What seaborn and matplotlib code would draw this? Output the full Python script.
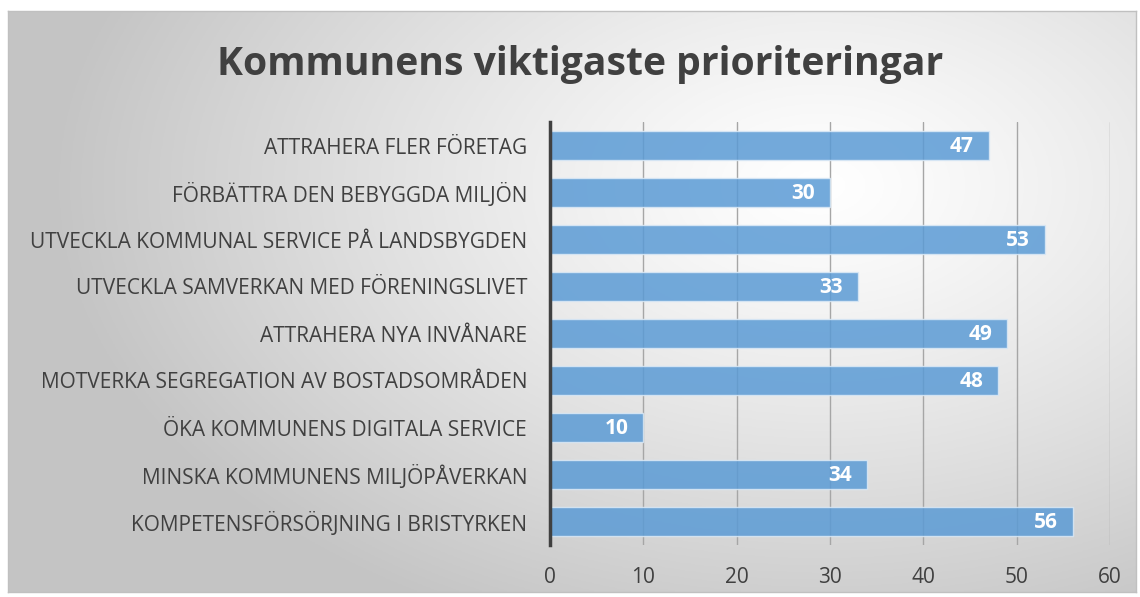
import numpy as np
import matplotlib
matplotlib.use("Agg")
import matplotlib.pyplot as plt
import seaborn as sns
import pandas as pd

categories = [
    "ATTRAHERA FLER FÖRETAG",
    "FÖRBÄTTRA DEN BEBYGGDA MILJÖN",
    "UTVECKLA KOMMUNAL SERVICE PÅ LANDSBYGDEN",
    "UTVECKLA SAMVERKAN MED FÖRENINGSLIVET",
    "ATTRAHERA NYA INVÅNARE",
    "MOTVERKA SEGREGATION AV BOSTADSOMRÅDEN",
    "ÖKA KOMMUNENS DIGITALA SERVICE",
    "MINSKA KOMMUNENS MILJÖPÅVERKAN",
    "KOMPETENSFÖRSÖRJNING I BRISTYRKEN",
]
values = [47, 30, 53, 33, 49, 48, 10, 34, 56]
xticks = [0, 10, 20, 30, 40, 50, 60]
title = "Kommunens viktigaste prioriteringar"

sns.set_theme(style="white")
plt.rcParams['font.family'] = ['Open Sans', 'DejaVu Sans']

W, H = 1140, 597
fig = plt.figure(figsize=(W / 100, H / 100), dpi=100)
fig.patch.set_facecolor("white")

# background panel with radial gradient
bx0, by0, bx1, by1 = 8, 11, 1136, 592
bg = fig.add_axes([bx0 / W, 1 - by1 / H, (bx1 - bx0) / W, (by1 - by0) / H])
bg.set_zorder(-10)
nx, ny = 400, 220
xs = np.linspace(0, 1, nx)
ys = np.linspace(0, 1, ny)
X, Y = np.meshgrid(xs, ys)
cx, cy = 0.72, 0.30
d = np.sqrt(((X - cx) * 1.1) ** 2 + ((Y - cy) * 0.9) ** 2)
d = np.clip(d / 0.75, 0, 1)
v = 1.0 - 0.23 * d ** 1.2
img = np.dstack([v, v, v])
bg.imshow(img, aspect="auto", extent=[0, 1, 1, 0])
bg.set_xlim(0, 1)
bg.set_ylim(1, 0)
bg.set_xticks([])
bg.set_yticks([])
for s in bg.spines.values():
    s.set_color("#c0c0c0")
    s.set_linewidth(1)

# main axes
ax = fig.add_axes([550 / W, 1 - 545 / H, 560 / W, 423 / H])
ax.patch.set_alpha(0)
df = pd.DataFrame({"cat": categories, "val": values})
sns.barplot(data=df, y="cat", x="val", orient="h", color="#5B9BD5",
            width=0.6, saturation=1, alpha=0.85, edgecolor="#dbe9f6",
            linewidth=1, ax=ax)
ax.set_xlim(0, 60)
ax.set_ylim(8.5, -0.5)
ax.set_xticks(xticks)
ax.set_xlabel("")
ax.set_ylabel("")
ax.set_axisbelow(True)
ax.grid(axis="x", color="#a6a6a6", linewidth=1)
ax.grid(axis="y", visible=False)
for sname in ["top", "right", "bottom"]:
    ax.spines[sname].set_visible(False)
ax.spines["left"].set_color("#404040")
ax.spines["left"].set_linewidth(2.5)
ax.tick_params(axis="both", length=0, labelcolor="#404040")
ax.tick_params(axis="y", pad=16.5, labelsize=15)
ax.tick_params(axis="x", pad=16, labelsize=15)

for i, val in enumerate(values):
    ax.text(val - 1.6, i + 0.03, str(val), ha="right", va="center", color="white",
            fontsize=15, fontweight="bold")

fig.text(580 / W, 1 - 65 / H, title, ha="center", va="center",
         fontsize=28.2, fontweight="bold", color="#404040")

fig.savefig("out.png", dpi=100)
